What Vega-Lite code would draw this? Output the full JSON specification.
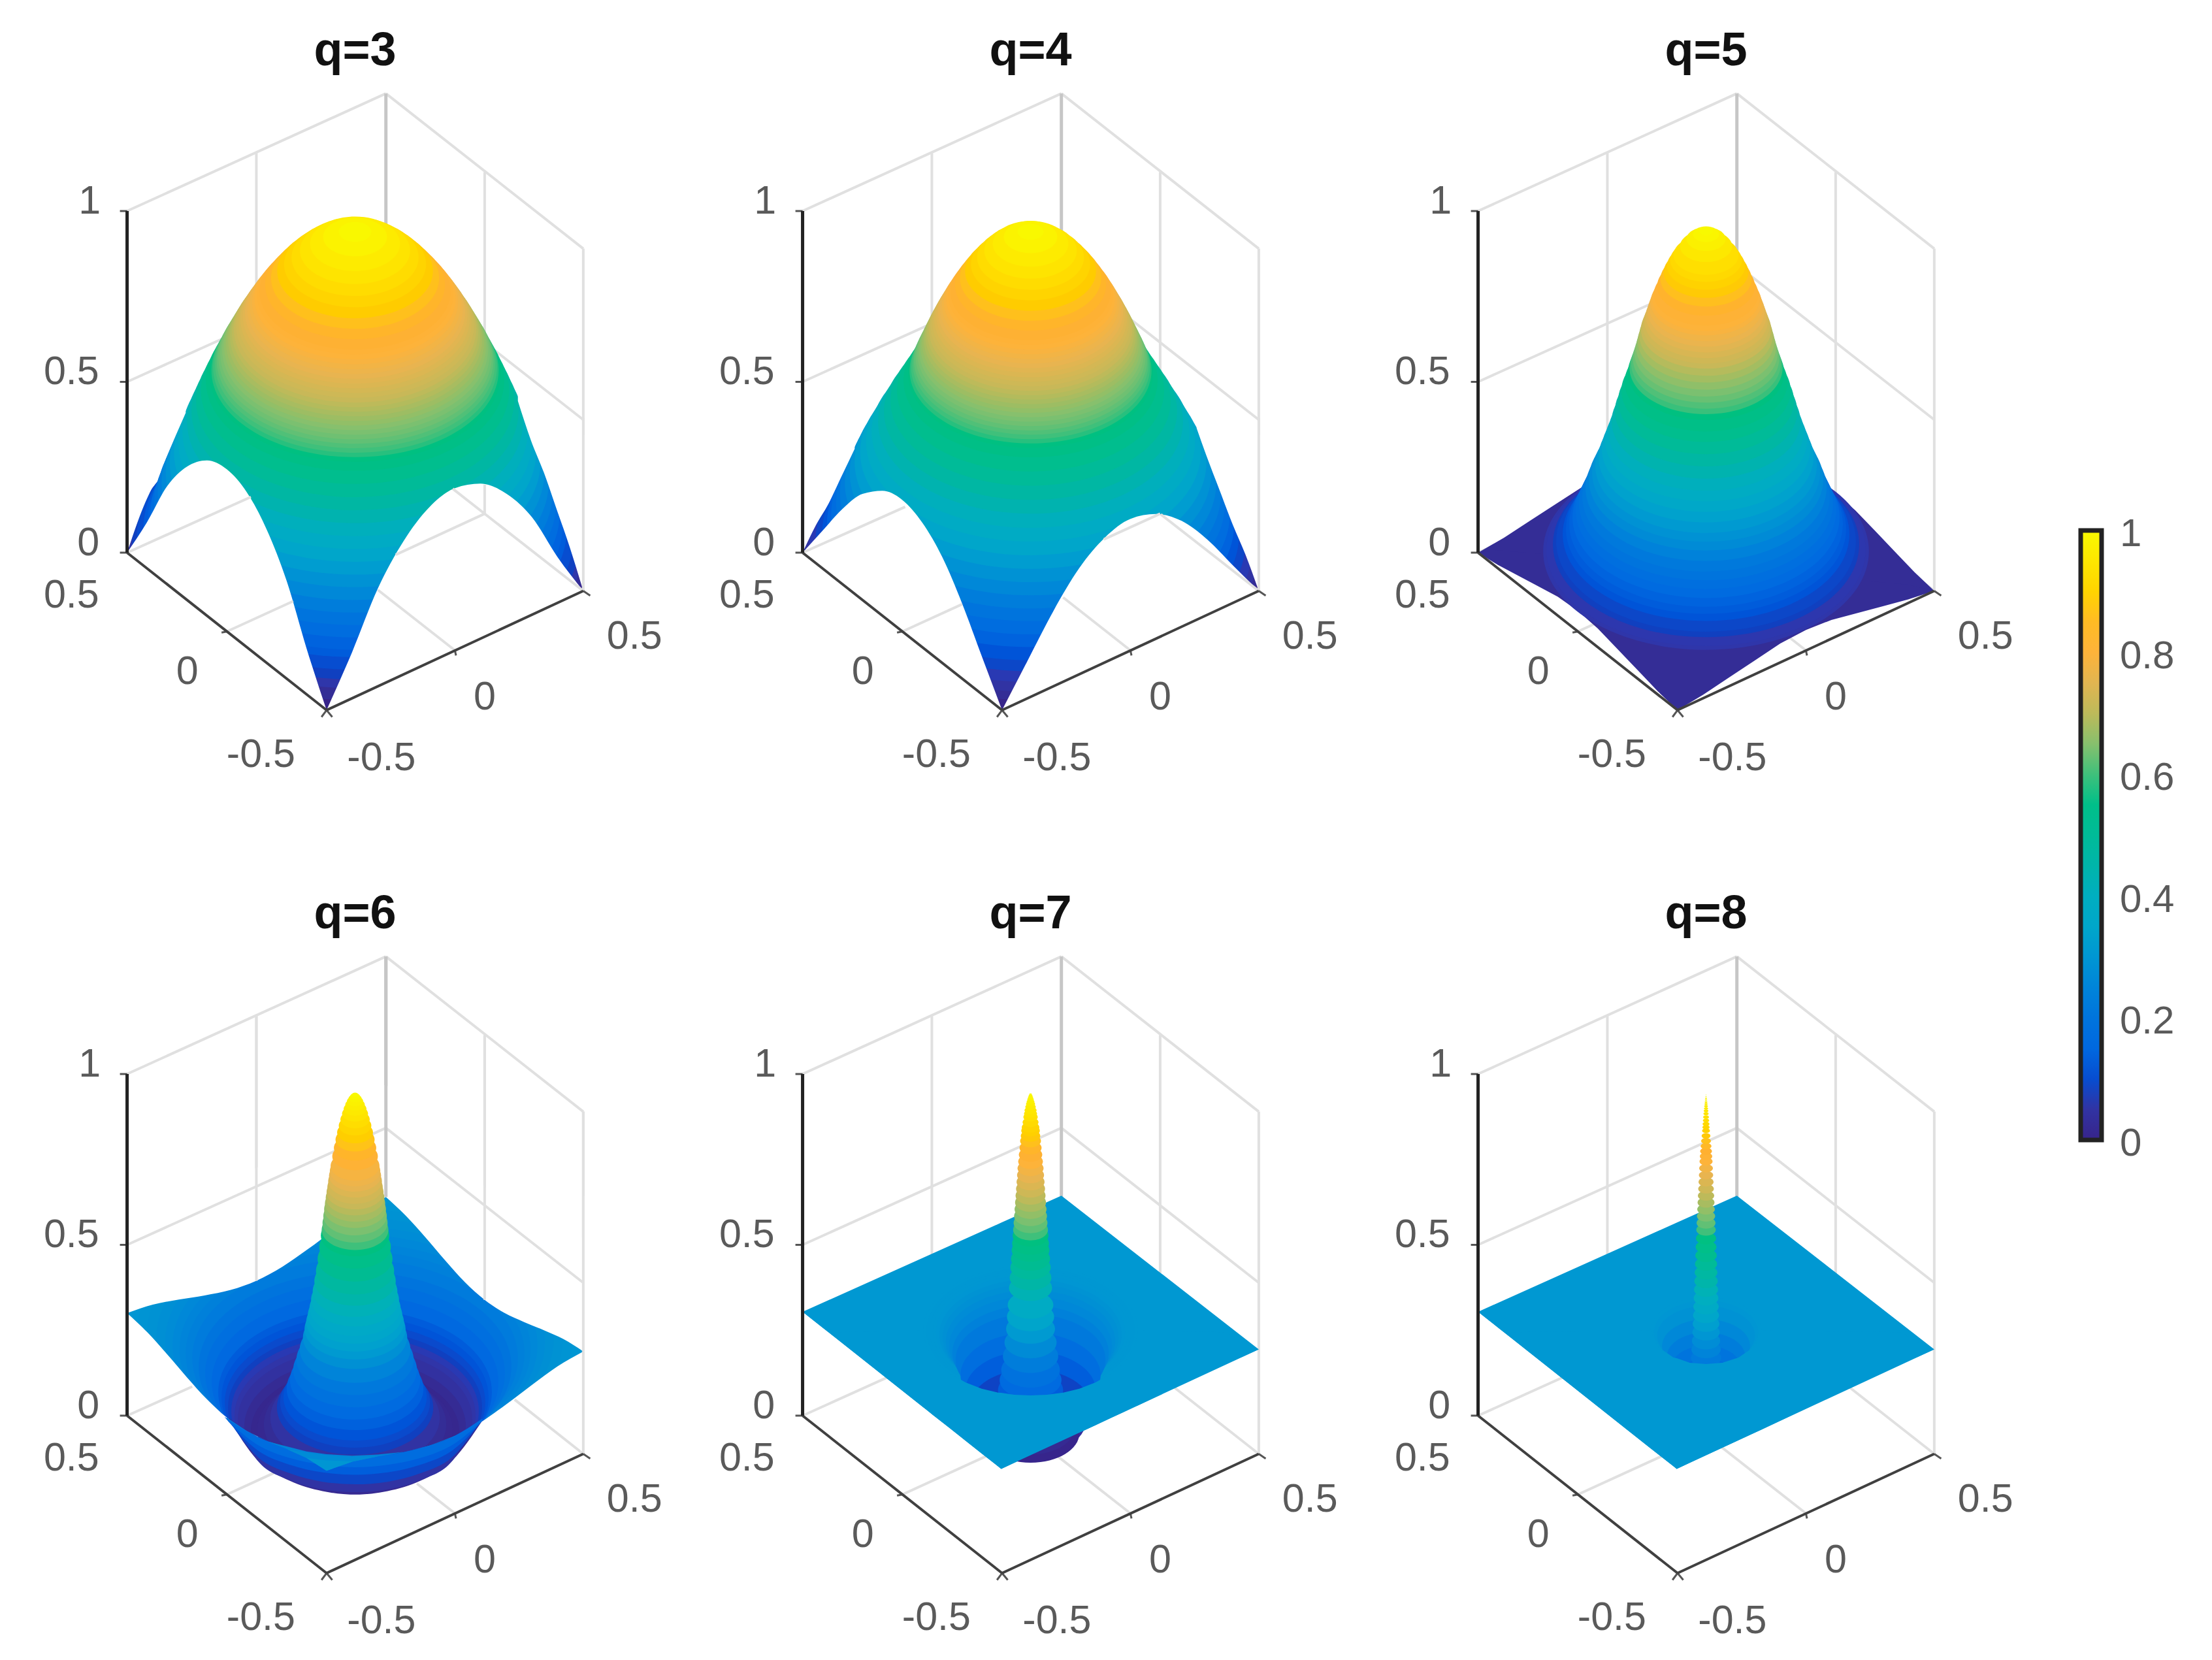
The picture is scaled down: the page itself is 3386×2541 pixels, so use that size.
{"$schema":"https://vega.github.io/schema/vega-lite/v6.json","background":"white","padding":{"left":45,"top":42,"right":0,"bottom":0},
"transform":[{"flatten":["q"]}],
"data":{"values":[
{"s":"g","q":["q=3","q=4","q=5","q=6","q=7","q=8"],"x":-0.7,"y":1.056,"x2":0.0947,"y2":1.4},
{"s":"g","q":["q=3","q=4","q=5","q=6","q=7","q=8"],"x":0.0947,"y":1.4,"x2":0.7008,"y2":0.946},
{"s":"g","q":["q=3","q=4","q=5","q=6","q=7","q=8"],"x":-0.7,"y":0.556,"x2":0.0947,"y2":0.898},
{"s":"g","q":["q=3","q=4","q=5","q=6","q=7","q=8"],"x":0.0947,"y":0.898,"x2":0.7008,"y2":0.445},
{"s":"g","q":["q=3","q=4","q=5","q=6","q=7","q=8"],"x":-0.7,"y":0.056,"x2":0.0947,"y2":0.398},
{"s":"g","q":["q=3","q=4","q=5","q=6","q=7","q=8"],"x":0.0947,"y":0.398,"x2":0.7008,"y2":-0.056},
{"s":"g","q":["q=3","q=4","q=5","q=6","q=7","q=8"],"x":-0.303,"y":0.226,"x2":-0.303,"y2":1.226},
{"s":"g","q":["q=3","q=4","q=5","q=6","q=7","q=8"],"x":0.398,"y":0.17,"x2":0.398,"y2":1.17},
{"s":"g","q":["q=3","q=4","q=5","q=6","q=7","q=8"],"x":0.7008,"y":-0.056,"x2":0.7008,"y2":0.946},
{"s":"g","q":["q=3","q=4","q=5","q=6","q=7","q=8"],"x":-0.394,"y":-0.175,"x2":0.398,"y2":0.17},
{"s":"g","q":["q=3","q=4","q=5","q=6","q=7","q=8"],"x":0.3066,"y":-0.23,"x2":-0.303,"y2":0.226},
{"s":"w","q":["q=3","q=4","q=5","q=6","q=7","q=8"],"x":0.0947,"y":0.398,"x2":0.0947,"y2":1.4},

{"s":"a","q":["q=3"],"r":0.707,"z":0.0},{"s":"a","q":["q=3"],"r":0.703,"z":0.03},{"s":"a","q":["q=3"],"r":0.695,"z":0.06},{"s":"a","q":["q=3"],"r":0.685,"z":0.08},{"s":"a","q":["q=3"],"r":0.67,"z":0.1},{"s":"a","q":["q=3"],"r":0.65,"z":0.125},{"s":"a","q":["q=3"],"r":0.638,"z":0.14},{"s":"a","q":["q=3"],"r":0.628,"z":0.17},{"s":"a","q":["q=3"],"r":0.617,"z":0.2},{"s":"a","q":["q=3"],"r":0.606,"z":0.23},{"s":"a","q":["q=3"],"r":0.594,"z":0.26},{"s":"a","q":["q=3"],"r":0.581,"z":0.29},{"s":"a","q":["q=3"],"r":0.569,"z":0.32},{"s":"a","q":["q=3"],"r":0.556,"z":0.35},{"s":"a","q":["q=3"],"r":0.543,"z":0.38},{"s":"a","q":["q=3"],"r":0.53,"z":0.41},{"s":"a","q":["q=3"],"r":0.516,"z":0.44},{"s":"a","q":["q=3"],"r":0.502,"z":0.47},{"s":"a","q":["q=3"],"r":0.488,"z":0.5},{"s":"a","q":["q=3"],"r":0.473,"z":0.53},{"s":"a","q":["q=3"],"r":0.458,"z":0.56},{"s":"a","q":["q=3"],"r":0.447,"z":0.58},{"s":"a","q":["q=3"],"r":0.441,"z":0.59},{"s":"a","q":["q=3"],"r":0.436,"z":0.6},{"s":"a","q":["q=3"],"r":0.43,"z":0.61},{"s":"a","q":["q=3"],"r":0.425,"z":0.62},{"s":"a","q":["q=3"],"r":0.42,"z":0.63},{"s":"a","q":["q=3"],"r":0.414,"z":0.64},{"s":"a","q":["q=3"],"r":0.408,"z":0.65},{"s":"a","q":["q=3"],"r":0.402,"z":0.66},{"s":"a","q":["q=3"],"r":0.396,"z":0.67},{"s":"a","q":["q=3"],"r":0.39,"z":0.68},{"s":"a","q":["q=3"],"r":0.384,"z":0.69},{"s":"a","q":["q=3"],"r":0.378,"z":0.7},{"s":"a","q":["q=3"],"r":0.372,"z":0.71},{"s":"a","q":["q=3"],"r":0.365,"z":0.72},{"s":"a","q":["q=3"],"r":0.358,"z":0.73},{"s":"a","q":["q=3"],"r":0.352,"z":0.74},{"s":"a","q":["q=3"],"r":0.345,"z":0.75},{"s":"a","q":["q=3"],"r":0.338,"z":0.76},{"s":"a","q":["q=3"],"r":0.331,"z":0.77},{"s":"a","q":["q=3"],"r":0.324,"z":0.78},{"s":"a","q":["q=3"],"r":0.316,"z":0.79},{"s":"a","q":["q=3"],"r":0.309,"z":0.8},{"s":"a","q":["q=3"],"r":0.301,"z":0.81},{"s":"a","q":["q=3"],"r":0.293,"z":0.82},{"s":"a","q":["q=3"],"r":0.276,"z":0.84},{"s":"a","q":["q=3"],"r":0.258,"z":0.86},{"s":"a","q":["q=3"],"r":0.239,"z":0.88},{"s":"a","q":["q=3"],"r":0.218,"z":0.9},{"s":"a","q":["q=3"],"r":0.195,"z":0.92},{"s":"a","q":["q=3"],"r":0.169,"z":0.94},{"s":"a","q":["q=3"],"r":0.138,"z":0.96},{"s":"a","q":["q=3"],"r":0.098,"z":0.98},{"s":"a","q":["q=3"],"r":0.05,"z":0.995},

{"s":"a","q":["q=4"],"r":0.707,"z":0.0},{"s":"a","q":["q=4"],"r":0.703,"z":0.03},{"s":"a","q":["q=4"],"r":0.695,"z":0.05},{"s":"a","q":["q=4"],"r":0.68,"z":0.07},{"s":"a","q":["q=4"],"r":0.66,"z":0.09},{"s":"a","q":["q=4"],"r":0.64,"z":0.11},{"s":"a","q":["q=4"],"r":0.625,"z":0.14},{"s":"a","q":["q=4"],"r":0.612,"z":0.17},{"s":"a","q":["q=4"],"r":0.597,"z":0.2},{"s":"a","q":["q=4"],"r":0.585,"z":0.23},{"s":"a","q":["q=4"],"r":0.57,"z":0.26},{"s":"a","q":["q=4"],"r":0.555,"z":0.29},{"s":"a","q":["q=4"],"r":0.54,"z":0.32},{"s":"a","q":["q=4"],"r":0.523,"z":0.35},{"s":"a","q":["q=4"],"r":0.505,"z":0.38},{"s":"a","q":["q=4"],"r":0.488,"z":0.41},{"s":"a","q":["q=4"],"r":0.468,"z":0.44},{"s":"a","q":["q=4"],"r":0.45,"z":0.47},{"s":"a","q":["q=4"],"r":0.43,"z":0.5},{"s":"a","q":["q=4"],"r":0.41,"z":0.53},{"s":"a","q":["q=4"],"r":0.39,"z":0.56},{"s":"a","q":["q=4"],"r":0.376,"z":0.58},{"s":"a","q":["q=4"],"r":0.3715,"z":0.59},{"s":"a","q":["q=4"],"r":0.367,"z":0.6},{"s":"a","q":["q=4"],"r":0.362,"z":0.61},{"s":"a","q":["q=4"],"r":0.358,"z":0.62},{"s":"a","q":["q=4"],"r":0.353,"z":0.63},{"s":"a","q":["q=4"],"r":0.348,"z":0.64},{"s":"a","q":["q=4"],"r":0.343,"z":0.65},{"s":"a","q":["q=4"],"r":0.338,"z":0.66},{"s":"a","q":["q=4"],"r":0.333,"z":0.67},{"s":"a","q":["q=4"],"r":0.328,"z":0.68},{"s":"a","q":["q=4"],"r":0.323,"z":0.69},{"s":"a","q":["q=4"],"r":0.318,"z":0.7},{"s":"a","q":["q=4"],"r":0.3125,"z":0.71},{"s":"a","q":["q=4"],"r":0.307,"z":0.72},{"s":"a","q":["q=4"],"r":0.3015,"z":0.73},{"s":"a","q":["q=4"],"r":0.296,"z":0.74},{"s":"a","q":["q=4"],"r":0.29,"z":0.75},{"s":"a","q":["q=4"],"r":0.284,"z":0.76},{"s":"a","q":["q=4"],"r":0.278,"z":0.77},{"s":"a","q":["q=4"],"r":0.272,"z":0.78},{"s":"a","q":["q=4"],"r":0.266,"z":0.79},{"s":"a","q":["q=4"],"r":0.259,"z":0.8},{"s":"a","q":["q=4"],"r":0.253,"z":0.81},{"s":"a","q":["q=4"],"r":0.246,"z":0.82},{"s":"a","q":["q=4"],"r":0.232,"z":0.84},{"s":"a","q":["q=4"],"r":0.217,"z":0.86},{"s":"a","q":["q=4"],"r":0.201,"z":0.88},{"s":"a","q":["q=4"],"r":0.183,"z":0.9},{"s":"a","q":["q=4"],"r":0.164,"z":0.92},{"s":"a","q":["q=4"],"r":0.142,"z":0.94},{"s":"a","q":["q=4"],"r":0.116,"z":0.96},{"s":"a","q":["q=4"],"r":0.082,"z":0.98},{"s":"a","q":["q=4"],"r":0.04,"z":0.995},

{"s":"a","q":["q=6"],"r":0.707,"z":0.3},{"s":"a","q":["q=6"],"r":0.67,"z":0.295},{"s":"a","q":["q=6"],"r":0.64,"z":0.291},{"s":"a","q":["q=6"],"r":0.61,"z":0.283},{"s":"a","q":["q=6"],"r":0.583,"z":0.272},{"s":"a","q":["q=6"],"r":0.56,"z":0.262},{"s":"a","q":["q=6"],"r":0.539,"z":0.25},{"s":"a","q":["q=6"],"r":0.52,"z":0.238},{"s":"a","q":["q=6"],"r":0.5,"z":0.225},{"s":"a","q":["q=6"],"r":0.48,"z":0.2},{"s":"a","q":["q=6"],"r":0.46,"z":0.18},{"s":"a","q":["q=6"],"r":0.44,"z":0.155},{"s":"a","q":["q=6"],"r":0.42,"z":0.125},{"s":"a","q":["q=6"],"r":0.41,"z":0.11},{"s":"a","q":["q=6"],"r":0.4,"z":0.095},{"s":"a","q":["q=6"],"r":0.39,"z":0.08},{"s":"a","q":["q=6"],"r":0.38,"z":0.07},{"s":"a","q":["q=6"],"r":0.37,"z":0.057},{"s":"a","q":["q=6"],"r":0.36,"z":0.045},{"s":"a","q":["q=6"],"r":0.34,"z":0.025},{"s":"a","q":["q=6"],"r":0.32,"z":0.01},

{"s":"m","q":["q=3"],"b":"m0","x":-0.73,"y":0.4,"y2":-0.6},{"s":"m","q":["q=3"],"b":"m0","x":-0.7001,"y":0.4,"y2":-0.6},
{"s":"m","q":["q=3"],"b":"m1","x":-0.7,"y":0.056,"y2":-0.6},{"s":"m","q":["q=3"],"b":"m1","x":-0.639,"y":0.145,"y2":-0.6},{"s":"m","q":["q=3"],"b":"m1","x":-0.5775,"y":0.25,"y2":-0.6},{"s":"m","q":["q=3"],"b":"m1","x":-0.516,"y":0.308,"y2":-0.6},{"s":"m","q":["q=3"],"b":"m1","x":-0.455,"y":0.326,"y2":-0.6},{"s":"m","q":["q=3"],"b":"m1","x":-0.394,"y":0.3,"y2":-0.6},{"s":"m","q":["q=3"],"b":"m1","x":-0.3325,"y":0.233,"y2":-0.6},{"s":"m","q":["q=3"],"b":"m1","x":-0.271,"y":0.123,"y2":-0.6},{"s":"m","q":["q=3"],"b":"m1","x":-0.21,"y":-0.027,"y2":-0.6},{"s":"m","q":["q=3"],"b":"m1","x":-0.149,"y":-0.224,"y2":-0.6},{"s":"m","q":["q=3"],"b":"m1","x":-0.0875,"y":-0.405,"y2":-0.6},
{"s":"m","q":["q=3"],"b":"m2","x":-0.0875,"y":-0.405,"y2":-0.6},{"s":"m","q":["q=3"],"b":"m2","x":-0.009,"y":-0.235,"y2":-0.6},{"s":"m","q":["q=3"],"b":"m2","x":0.07,"y":-0.049,"y2":-0.6},{"s":"m","q":["q=3"],"b":"m2","x":0.149,"y":0.09,"y2":-0.6},{"s":"m","q":["q=3"],"b":"m2","x":0.228,"y":0.189,"y2":-0.6},{"s":"m","q":["q=3"],"b":"m2","x":0.307,"y":0.245,"y2":-0.6},{"s":"m","q":["q=3"],"b":"m2","x":0.385,"y":0.258,"y2":-0.6},{"s":"m","q":["q=3"],"b":"m2","x":0.464,"y":0.229,"y2":-0.6},{"s":"m","q":["q=3"],"b":"m2","x":0.543,"y":0.16,"y2":-0.6},{"s":"m","q":["q=3"],"b":"m2","x":0.621,"y":0.044,"y2":-0.6},{"s":"m","q":["q=3"],"b":"m2","x":0.7008,"y":-0.056,"y2":-0.6},
{"s":"m","q":["q=3"],"b":"m3","x":0.7009,"y":0.4,"y2":-0.6},{"s":"m","q":["q=3"],"b":"m3","x":0.73,"y":0.4,"y2":-0.6},
{"s":"m","q":["q=3"],"b":"m4","x":-0.71,"y":0.056,"y2":-0.6},{"s":"m","q":["q=3"],"b":"m4","x":-0.69,"y":0.056,"y2":-0.6},
{"s":"m","q":["q=3"],"b":"m5","x":0.69,"y":-0.06,"y2":-0.6},{"s":"m","q":["q=3"],"b":"m5","x":0.71,"y":-0.06,"y2":-0.6},
{"s":"m","q":["q=3"],"b":"k1","x":-0.7,"y":0.54,"y2":0.056},{"s":"m","q":["q=3"],"b":"k1","x":-0.65,"y":0.54,"y2":0.19},{"s":"m","q":["q=3"],"b":"k1","x":-0.6,"y":0.54,"y2":0.29},{"s":"m","q":["q=3"],"b":"k1","x":-0.55,"y":0.54,"y2":0.4},{"s":"m","q":["q=3"],"b":"k1","x":-0.52,"y":0.54,"y2":0.465},
{"s":"m","q":["q=3"],"b":"k2","x":0.5,"y":0.55,"y2":0.5},{"s":"m","q":["q=3"],"b":"k2","x":0.54,"y":0.53,"y2":0.385},{"s":"m","q":["q=3"],"b":"k2","x":0.58,"y":0.5,"y2":0.29},{"s":"m","q":["q=3"],"b":"k2","x":0.62,"y":0.47,"y2":0.18},{"s":"m","q":["q=3"],"b":"k2","x":0.66,"y":0.45,"y2":0.07},{"s":"m","q":["q=3"],"b":"k2","x":0.7008,"y":0.44,"y2":-0.056},

{"s":"m","q":["q=4"],"b":"m0","x":-0.73,"y":0.4,"y2":-0.6},{"s":"m","q":["q=4"],"b":"m0","x":-0.7001,"y":0.4,"y2":-0.6},
{"s":"m","q":["q=4"],"b":"m1","x":-0.7,"y":0.056,"y2":-0.6},{"s":"m","q":["q=4"],"b":"m1","x":-0.639,"y":0.12,"y2":-0.6},{"s":"m","q":["q=4"],"b":"m1","x":-0.5775,"y":0.184,"y2":-0.6},{"s":"m","q":["q=4"],"b":"m1","x":-0.516,"y":0.228,"y2":-0.6},{"s":"m","q":["q=4"],"b":"m1","x":-0.455,"y":0.237,"y2":-0.6},{"s":"m","q":["q=4"],"b":"m1","x":-0.394,"y":0.2105,"y2":-0.6},{"s":"m","q":["q=4"],"b":"m1","x":-0.3325,"y":0.144,"y2":-0.6},{"s":"m","q":["q=4"],"b":"m1","x":-0.271,"y":0.043,"y2":-0.6},{"s":"m","q":["q=4"],"b":"m1","x":-0.21,"y":-0.093,"y2":-0.6},{"s":"m","q":["q=4"],"b":"m1","x":-0.149,"y":-0.249,"y2":-0.6},{"s":"m","q":["q=4"],"b":"m1","x":-0.0875,"y":-0.405,"y2":-0.6},
{"s":"m","q":["q=4"],"b":"m2","x":-0.0875,"y":-0.405,"y2":-0.6},{"s":"m","q":["q=4"],"b":"m2","x":-0.009,"y":-0.26,"y2":-0.6},{"s":"m","q":["q=4"],"b":"m2","x":0.07,"y":-0.115,"y2":-0.6},{"s":"m","q":["q=4"],"b":"m2","x":0.149,"y":0.01,"y2":-0.6},{"s":"m","q":["q=4"],"b":"m2","x":0.228,"y":0.1,"y2":-0.6},{"s":"m","q":["q=4"],"b":"m2","x":0.307,"y":0.155,"y2":-0.6},{"s":"m","q":["q=4"],"b":"m2","x":0.385,"y":0.169,"y2":-0.6},{"s":"m","q":["q=4"],"b":"m2","x":0.464,"y":0.149,"y2":-0.6},{"s":"m","q":["q=4"],"b":"m2","x":0.543,"y":0.094,"y2":-0.6},{"s":"m","q":["q=4"],"b":"m2","x":0.621,"y":0.019,"y2":-0.6},{"s":"m","q":["q=4"],"b":"m2","x":0.7008,"y":-0.056,"y2":-0.6},
{"s":"m","q":["q=4"],"b":"m3","x":0.7009,"y":0.4,"y2":-0.6},{"s":"m","q":["q=4"],"b":"m3","x":0.73,"y":0.4,"y2":-0.6},
{"s":"m","q":["q=4"],"b":"m4","x":-0.71,"y":0.056,"y2":-0.6},{"s":"m","q":["q=4"],"b":"m4","x":-0.69,"y":0.056,"y2":-0.6},
{"s":"m","q":["q=4"],"b":"m5","x":0.69,"y":-0.06,"y2":-0.6},{"s":"m","q":["q=4"],"b":"m5","x":0.71,"y":-0.06,"y2":-0.6},
{"s":"m","q":["q=4"],"b":"k1","x":-0.7,"y":0.54,"y2":0.056},{"s":"m","q":["q=4"],"b":"k1","x":-0.66,"y":0.54,"y2":0.135},{"s":"m","q":["q=4"],"b":"k1","x":-0.62,"y":0.54,"y2":0.2},{"s":"m","q":["q=4"],"b":"k1","x":-0.58,"y":0.54,"y2":0.28},{"s":"m","q":["q=4"],"b":"k1","x":-0.54,"y":0.54,"y2":0.36},
{"s":"m","q":["q=4"],"b":"k2","x":0.51,"y":0.5,"y2":0.42},{"s":"m","q":["q=4"],"b":"k2","x":0.54,"y":0.49,"y2":0.34},{"s":"m","q":["q=4"],"b":"k2","x":0.58,"y":0.47,"y2":0.24},{"s":"m","q":["q=4"],"b":"k2","x":0.62,"y":0.46,"y2":0.14},{"s":"m","q":["q=4"],"b":"k2","x":0.66,"y":0.45,"y2":0.05},{"s":"m","q":["q=4"],"b":"k2","x":0.7008,"y":0.44,"y2":-0.056},

{"s":"m","q":["q=6"],"b":"b1","x":-0.7,"y":0.686,"y2":0.356},{"s":"m","q":["q=6"],"b":"b1","x":-0.621,"y":0.711,"y2":0.381},{"s":"m","q":["q=6"],"b":"b1","x":-0.541,"y":0.726,"y2":0.396},{"s":"m","q":["q=6"],"b":"b1","x":-0.462,"y":0.738,"y2":0.408},{"s":"m","q":["q=6"],"b":"b1","x":-0.382,"y":0.754,"y2":0.424},{"s":"m","q":["q=6"],"b":"b1","x":-0.303,"y":0.781,"y2":0.451},{"s":"m","q":["q=6"],"b":"b1","x":-0.223,"y":0.822,"y2":0.492},{"s":"m","q":["q=6"],"b":"b1","x":-0.144,"y":0.874,"y2":0.544},{"s":"m","q":["q=6"],"b":"b1","x":-0.064,"y":0.93,"y2":0.6},{"s":"m","q":["q=6"],"b":"b1","x":0.015,"y":0.983,"y2":0.653},{"s":"m","q":["q=6"],"b":"b1","x":0.0947,"y":1.026,"y2":0.696},
{"s":"m","q":["q=6"],"b":"b2","x":0.0947,"y":1.026,"y2":0.696},{"s":"m","q":["q=6"],"b":"b2","x":0.155,"y":0.972,"y2":0.642},{"s":"m","q":["q=6"],"b":"b2","x":0.216,"y":0.908,"y2":0.578},{"s":"m","q":["q=6"],"b":"b2","x":0.277,"y":0.84,"y2":0.51},{"s":"m","q":["q=6"],"b":"b2","x":0.337,"y":0.777,"y2":0.447},{"s":"m","q":["q=6"],"b":"b2","x":0.398,"y":0.725,"y2":0.395},{"s":"m","q":["q=6"],"b":"b2","x":0.458,"y":0.687,"y2":0.357},{"s":"m","q":["q=6"],"b":"b2","x":0.519,"y":0.66,"y2":0.33},{"s":"m","q":["q=6"],"b":"b2","x":0.58,"y":0.636,"y2":0.306},{"s":"m","q":["q=6"],"b":"b2","x":0.64,"y":0.61,"y2":0.28},{"s":"m","q":["q=6"],"b":"b2","x":0.7008,"y":0.574,"y2":0.244},

{"s":"m","q":["q=6"],"b":"f0","x":-0.73,"y":0.7,"y2":-0.6},{"s":"m","q":["q=6"],"b":"f0","x":-0.7001,"y":0.7,"y2":-0.6},
{"s":"m","q":["q=6"],"b":"f1","x":-0.7,"y":0.356,"y2":-0.6},{"s":"m","q":["q=6"],"b":"f1","x":-0.639,"y":0.301,"y2":-0.6},{"s":"m","q":["q=6"],"b":"f1","x":-0.5775,"y":0.236,"y2":-0.6},{"s":"m","q":["q=6"],"b":"f1","x":-0.516,"y":0.168,"y2":-0.6},{"s":"m","q":["q=6"],"b":"f1","x":-0.455,"y":0.104,"y2":-0.6},{"s":"m","q":["q=6"],"b":"f1","x":-0.394,"y":0.0505,"y2":-0.6},{"s":"m","q":["q=6"],"b":"f1","x":-0.3325,"y":0.011,"y2":-0.6},{"s":"m","q":["q=6"],"b":"f1","x":-0.271,"y":-0.017,"y2":-0.6},{"s":"m","q":["q=6"],"b":"f1","x":-0.21,"y":-0.041,"y2":-0.6},{"s":"m","q":["q=6"],"b":"f1","x":-0.149,"y":-0.068,"y2":-0.6},{"s":"m","q":["q=6"],"b":"f1","x":-0.0875,"y":-0.105,"y2":-0.6},
{"s":"m","q":["q=6"],"b":"f2","x":-0.0875,"y":-0.105,"y2":-0.6},{"s":"m","q":["q=6"],"b":"f2","x":-0.009,"y":-0.079,"y2":-0.6},{"s":"m","q":["q=6"],"b":"f2","x":0.07,"y":-0.063,"y2":-0.6},{"s":"m","q":["q=6"],"b":"f2","x":0.149,"y":-0.05,"y2":-0.6},{"s":"m","q":["q=6"],"b":"f2","x":0.228,"y":-0.033,"y2":-0.6},{"s":"m","q":["q=6"],"b":"f2","x":0.307,"y":-0.005,"y2":-0.6},{"s":"m","q":["q=6"],"b":"f2","x":0.385,"y":0.036,"y2":-0.6},{"s":"m","q":["q=6"],"b":"f2","x":0.464,"y":0.089,"y2":-0.6},{"s":"m","q":["q=6"],"b":"f2","x":0.543,"y":0.146,"y2":-0.6},{"s":"m","q":["q=6"],"b":"f2","x":0.621,"y":0.2,"y2":-0.6},{"s":"m","q":["q=6"],"b":"f2","x":0.7008,"y":0.244,"y2":-0.6},
{"s":"m","q":["q=6"],"b":"f3","x":0.7009,"y":0.7,"y2":-0.6},{"s":"m","q":["q=6"],"b":"f3","x":0.73,"y":0.7,"y2":-0.6},
{"s":"m","q":["q=6"],"b":"f4","x":-0.71,"y":0.3,"y2":-0.6},{"s":"m","q":["q=6"],"b":"f4","x":-0.69,"y":0.3,"y2":-0.6},
{"s":"m","q":["q=6"],"b":"f5","x":0.69,"y":0.23,"y2":-0.6},{"s":"m","q":["q=6"],"b":"f5","x":0.71,"y":0.23,"y2":-0.6},

{"s":"h","q":["q=3"],"x":-0.7,"y":0.056,"x2":-0.32,"y2":0.219},{"s":"h","q":["q=3"],"x":-0.394,"y":-0.175,"x2":-0.19,"y2":-0.086},{"s":"h","q":["q=3"],"x":0.125,"y":0.05,"x2":0.398,"y2":0.17},{"s":"h","q":["q=3"],"x":0.3066,"y":-0.23,"x2":0.07,"y2":-0.053},{"s":"h","q":["q=3"],"x":0.3,"y":0.243,"x2":0.7008,"y2":-0.056},{"s":"h","q":["q=3"],"x":0.398,"y":0.17,"x2":0.398,"y2":0.255},{"s":"h","q":["q=3"],"x":0.7008,"y":-0.056,"x2":0.7008,"y2":0.45},
{"s":"h","q":["q=4"],"x":-0.7,"y":0.056,"x2":-0.385,"y2":0.19},{"s":"h","q":["q=4"],"x":-0.394,"y":-0.175,"x2":-0.21,"y2":-0.095},{"s":"h","q":["q=4"],"x":0.225,"y":0.095,"x2":0.398,"y2":0.17},{"s":"h","q":["q=4"],"x":0.3066,"y":-0.23,"x2":0.1,"y2":-0.075},{"s":"h","q":["q=4"],"x":0.4,"y":0.168,"x2":0.7008,"y2":-0.056},{"s":"h","q":["q=4"],"x":0.7008,"y":-0.056,"x2":0.7008,"y2":0.45},
{"s":"h","q":["q=6"],"x":-0.7,"y":0.556,"x2":0.0947,"y2":0.898},{"s":"h","q":["q=6"],"x":0.0947,"y":0.898,"x2":0.7008,"y2":0.445},{"s":"h","q":["q=6"],"x":-0.303,"y":0.451,"x2":-0.303,"y2":1.226},{"s":"h","q":["q=6"],"x":0.398,"y":0.395,"x2":0.398,"y2":1.17},{"s":"h","q":["q=6"],"x":0.7008,"y":0.244,"x2":0.7008,"y2":0.946},{"s":"h","q":["q=6"],"x":-0.7,"y":0.056,"x2":-0.5,"y2":0.141},{"s":"h","q":["q=6"],"x":-0.394,"y":-0.175,"x2":-0.25,"y2":-0.112},{"s":"h","q":["q=6"],"x":0.3066,"y":-0.23,"x2":0.19,"y2":-0.143},{"s":"h","q":["q=6"],"x":0.49,"y":0.103,"x2":0.7008,"y2":-0.056},{"s":"h","q":["q=6"],"x":0.7008,"y":-0.056,"x2":0.7008,"y2":0.244},
{"s":"y","q":["q=6"],"x":0.0947,"y":0.696,"x2":0.0947,"y2":1.4},

{"s":"p","q":["q=5"],"b":"u","z":0.03,"x":-0.7,"y":0.056,"y2":0.056},{"s":"p","q":["q=5"],"b":"u","z":0.03,"x":-0.62,"y":0.1,"y2":0.05},{"s":"p","q":["q=5"],"b":"u","z":0.03,"x":-0.541,"y":0.149,"y2":0.043},{"s":"p","q":["q=5"],"b":"u","z":0.03,"x":-0.462,"y":0.198,"y2":0.037},{"s":"p","q":["q=5"],"b":"u","z":0.03,"x":-0.382,"y":0.247,"y2":0.031},{"s":"p","q":["q=5"],"b":"u","z":0.03,"x":-0.303,"y":0.286,"y2":0.024},{"s":"p","q":["q=5"],"b":"u","z":0.03,"x":-0.144,"y":0.334,"y2":0.012},{"s":"p","q":["q=5"],"b":"u","z":0.03,"x":0.0947,"y":0.396,"y2":-0.008},{"s":"p","q":["q=5"],"b":"u","z":0.03,"x":0.277,"y":0.3,"y2":-0.022},{"s":"p","q":["q=5"],"b":"u","z":0.03,"x":0.337,"y":0.27,"y2":-0.027},{"s":"p","q":["q=5"],"b":"u","z":0.03,"x":0.398,"y":0.23,"y2":-0.032},{"s":"p","q":["q=5"],"b":"u","z":0.03,"x":0.458,"y":0.18,"y2":-0.037},{"s":"p","q":["q=5"],"b":"u","z":0.03,"x":0.519,"y":0.12,"y2":-0.042},{"s":"p","q":["q=5"],"b":"u","z":0.03,"x":0.58,"y":0.059,"y2":-0.046},{"s":"p","q":["q=5"],"b":"u","z":0.03,"x":0.64,"y":-0.001,"y2":-0.051},{"s":"p","q":["q=5"],"b":"u","z":0.03,"x":0.7008,"y":-0.056,"y2":-0.056},
{"s":"p","q":["q=5"],"b":"l","z":0.03,"x":-0.7,"y":0.056,"y2":0.056},{"s":"p","q":["q=5"],"b":"l","z":0.03,"x":-0.639,"y":0.063,"y2":0.02},{"s":"p","q":["q=5"],"b":"l","z":0.03,"x":-0.5775,"y":0.058,"y2":-0.011},{"s":"p","q":["q=5"],"b":"l","z":0.03,"x":-0.516,"y":0.053,"y2":-0.042},{"s":"p","q":["q=5"],"b":"l","z":0.03,"x":-0.455,"y":0.048,"y2":-0.073},{"s":"p","q":["q=5"],"b":"l","z":0.03,"x":-0.394,"y":0.044,"y2":-0.1145},{"s":"p","q":["q=5"],"b":"l","z":0.03,"x":-0.3325,"y":0.039,"y2":-0.166},{"s":"p","q":["q=5"],"b":"l","z":0.03,"x":-0.271,"y":0.034,"y2":-0.227},{"s":"p","q":["q=5"],"b":"l","z":0.03,"x":-0.21,"y":0.029,"y2":-0.288},{"s":"p","q":["q=5"],"b":"l","z":0.03,"x":-0.149,"y":0.024,"y2":-0.349},{"s":"p","q":["q=5"],"b":"l","z":0.03,"x":-0.0875,"y":0.019,"y2":-0.405},{"s":"p","q":["q=5"],"b":"l","z":0.03,"x":-0.009,"y":0.013,"y2":-0.36},{"s":"p","q":["q=5"],"b":"l","z":0.03,"x":0.07,"y":0.006,"y2":-0.31},{"s":"p","q":["q=5"],"b":"l","z":0.03,"x":0.149,"y":0,"y2":-0.26},{"s":"p","q":["q=5"],"b":"l","z":0.03,"x":0.228,"y":-0.006,"y2":-0.21},{"s":"p","q":["q=5"],"b":"l","z":0.03,"x":0.307,"y":-0.013,"y2":-0.17},{"s":"p","q":["q=5"],"b":"l","z":0.03,"x":0.385,"y":-0.019,"y2":-0.141},{"s":"p","q":["q=5"],"b":"l","z":0.03,"x":0.464,"y":-0.025,"y2":-0.121},{"s":"p","q":["q=5"],"b":"l","z":0.03,"x":0.543,"y":-0.031,"y2":-0.101},{"s":"p","q":["q=5"],"b":"l","z":0.03,"x":0.621,"y":-0.038,"y2":-0.081},{"s":"p","q":["q=5"],"b":"l","z":0.03,"x":0.7008,"y":-0.056,"y2":-0.056},

{"s":"p","q":["q=7","q=8"],"b":"s","z":0.305,"x":-0.7,"y":0.36,"y2":0.36},{"s":"p","q":["q=7","q=8"],"b":"s","z":0.305,"x":-0.09,"y":0.621,"y2":-0.1},{"s":"p","q":["q=7","q=8"],"b":"s","z":0.305,"x":0.0947,"y":0.7,"y2":-0.018},{"s":"p","q":["q=7","q=8"],"b":"s","z":0.305,"x":0.7008,"y":0.25,"y2":0.25},

{"s":"c","q":["q=5"],"r":0.5,"z":0.06},{"s":"c","q":["q=5"],"r":0.49,"z":0.065},{"s":"c","q":["q=5"],"r":0.47,"z":0.08},{"s":"c","q":["q=5"],"r":0.46,"z":0.09},{"s":"c","q":["q=5"],"r":0.44,"z":0.11},{"s":"c","q":["q=5"],"r":0.43,"z":0.125},{"s":"c","q":["q=5"],"r":0.42,"z":0.14},{"s":"c","q":["q=5"],"r":0.41,"z":0.16},{"s":"c","q":["q=5"],"r":0.4,"z":0.18},{"s":"c","q":["q=5"],"r":0.39,"z":0.2},{"s":"c","q":["q=5"],"r":0.38,"z":0.22},{"s":"c","q":["q=5"],"r":0.37,"z":0.245},{"s":"c","q":["q=5"],"r":0.36,"z":0.27},{"s":"c","q":["q=5"],"r":0.35,"z":0.29},{"s":"c","q":["q=5"],"r":0.34,"z":0.31},{"s":"c","q":["q=5"],"r":0.33,"z":0.335},{"s":"c","q":["q=5"],"r":0.32,"z":0.36},{"s":"c","q":["q=5"],"r":0.31,"z":0.385},{"s":"c","q":["q=5"],"r":0.3,"z":0.41},{"s":"c","q":["q=5"],"r":0.29,"z":0.44},{"s":"c","q":["q=5"],"r":0.28,"z":0.47},{"s":"c","q":["q=5"],"r":0.27,"z":0.5},{"s":"c","q":["q=5"],"r":0.26,"z":0.53},{"s":"c","q":["q=5"],"r":0.25,"z":0.555},{"s":"c","q":["q=5"],"r":0.24,"z":0.583},{"s":"c","q":["q=5"],"r":0.235,"z":0.597},{"s":"c","q":["q=5"],"r":0.23,"z":0.61},{"s":"c","q":["q=5"],"r":0.225,"z":0.625},{"s":"c","q":["q=5"],"r":0.22,"z":0.64},{"s":"c","q":["q=5"],"r":0.215,"z":0.657},{"s":"c","q":["q=5"],"r":0.21,"z":0.675},{"s":"c","q":["q=5"],"r":0.205,"z":0.692},{"s":"c","q":["q=5"],"r":0.2,"z":0.71},{"s":"c","q":["q=5"],"r":0.195,"z":0.722},{"s":"c","q":["q=5"],"r":0.19,"z":0.735},{"s":"c","q":["q=5"],"r":0.185,"z":0.749},{"s":"c","q":["q=5"],"r":0.18,"z":0.763},{"s":"c","q":["q=5"],"r":0.175,"z":0.776},{"s":"c","q":["q=5"],"r":0.17,"z":0.79},{"s":"c","q":["q=5"],"r":0.165,"z":0.8},{"s":"c","q":["q=5"],"r":0.16,"z":0.813},{"s":"c","q":["q=5"],"r":0.15,"z":0.836},{"s":"c","q":["q=5"],"r":0.14,"z":0.857},{"s":"c","q":["q=5"],"r":0.13,"z":0.877},{"s":"c","q":["q=5"],"r":0.12,"z":0.895},{"s":"c","q":["q=5"],"r":0.11,"z":0.912},{"s":"c","q":["q=5"],"r":0.1,"z":0.927},{"s":"c","q":["q=5"],"r":0.08,"z":0.953},{"s":"c","q":["q=5"],"r":0.06,"z":0.974},{"s":"c","q":["q=5"],"r":0.04,"z":0.988},{"s":"c","q":["q=5"],"r":0.02,"z":0.997},

{"s":"c","q":["q=6"],"r":0.3,"z":0.015},{"s":"c","q":["q=6"],"r":0.28,"z":0.03},{"s":"c","q":["q=6"],"r":0.26,"z":0.05},{"s":"c","q":["q=6"],"r":0.24,"z":0.08},{"s":"c","q":["q=6"],"r":0.23,"z":0.095},{"s":"c","q":["q=6"],"r":0.22,"z":0.11},{"s":"c","q":["q=6"],"r":0.21,"z":0.135},{"s":"c","q":["q=6"],"r":0.2,"z":0.16},{"s":"c","q":["q=6"],"r":0.19,"z":0.19},{"s":"c","q":["q=6"],"r":0.18,"z":0.22},{"s":"c","q":["q=6"],"r":0.17,"z":0.25},{"s":"c","q":["q=6"],"r":0.16,"z":0.285},{"s":"c","q":["q=6"],"r":0.155,"z":0.31},{"s":"c","q":["q=6"],"r":0.15,"z":0.33},{"s":"c","q":["q=6"],"r":0.145,"z":0.35},{"s":"c","q":["q=6"],"r":0.14,"z":0.37},{"s":"c","q":["q=6"],"r":0.135,"z":0.395},{"s":"c","q":["q=6"],"r":0.13,"z":0.42},{"s":"c","q":["q=6"],"r":0.125,"z":0.45},{"s":"c","q":["q=6"],"r":0.12,"z":0.48},{"s":"c","q":["q=6"],"r":0.115,"z":0.515},{"s":"c","q":["q=6"],"r":0.11,"z":0.55},{"s":"c","q":["q=6"],"r":0.105,"z":0.583},{"s":"c","q":["q=6"],"r":0.1025,"z":0.6},{"s":"c","q":["q=6"],"r":0.1,"z":0.62},{"s":"c","q":["q=6"],"r":0.0975,"z":0.64},{"s":"c","q":["q=6"],"r":0.095,"z":0.66},{"s":"c","q":["q=6"],"r":0.0925,"z":0.677},{"s":"c","q":["q=6"],"r":0.09,"z":0.694},{"s":"c","q":["q=6"],"r":0.0875,"z":0.71},{"s":"c","q":["q=6"],"r":0.085,"z":0.725},{"s":"c","q":["q=6"],"r":0.0825,"z":0.742},{"s":"c","q":["q=6"],"r":0.08,"z":0.758},{"s":"c","q":["q=6"],"r":0.0775,"z":0.772},{"s":"c","q":["q=6"],"r":0.075,"z":0.787},{"s":"c","q":["q=6"],"r":0.07,"z":0.815},{"s":"c","q":["q=6"],"r":0.065,"z":0.84},{"s":"c","q":["q=6"],"r":0.06,"z":0.864},{"s":"c","q":["q=6"],"r":0.055,"z":0.885},{"s":"c","q":["q=6"],"r":0.05,"z":0.905},{"s":"c","q":["q=6"],"r":0.045,"z":0.923},{"s":"c","q":["q=6"],"r":0.04,"z":0.94},{"s":"c","q":["q=6"],"r":0.035,"z":0.954},{"s":"c","q":["q=6"],"r":0.03,"z":0.966},{"s":"c","q":["q=6"],"r":0.025,"z":0.976},{"s":"c","q":["q=6"],"r":0.02,"z":0.985},{"s":"c","q":["q=6"],"r":0.015,"z":0.991},{"s":"c","q":["q=6"],"r":0.01,"z":0.996},

{"s":"c","q":["q=7"],"r":0.33,"z":0.305},{"s":"c","q":["q=7"],"r":0.32,"z":0.3045},{"s":"c","q":["q=7"],"r":0.31,"z":0.303},{"s":"c","q":["q=7"],"r":0.3,"z":0.302},{"s":"c","q":["q=7"],"r":0.29,"z":0.3},{"s":"c","q":["q=7"],"r":0.28,"z":0.293},{"s":"c","q":["q=7"],"r":0.27,"z":0.285},{"s":"c","q":["q=7"],"r":0.26,"z":0.273},{"s":"c","q":["q=7"],"r":0.25,"z":0.26},{"s":"c","q":["q=7"],"r":0.24,"z":0.24},{"s":"c","q":["q=7"],"r":0.23,"z":0.22},{"s":"c","q":["q=7"],"r":0.215,"z":0.175},{"s":"c","q":["q=7"],"r":0.2,"z":0.13},{"s":"c","q":["q=7"],"r":0.185,"z":0.085},{"s":"c","q":["q=7"],"r":0.17,"z":0.04},{"s":"c","q":["q=7"],"r":0.15,"z":0.005},{"s":"c","q":["q=7"],"r":0.135,"z":0.02},{"s":"c","q":["q=7"],"r":0.125,"z":0.05},{"s":"c","q":["q=7"],"r":0.115,"z":0.07},{"s":"c","q":["q=7"],"r":0.108,"z":0.09},{"s":"c","q":["q=7"],"r":0.1,"z":0.13},{"s":"c","q":["q=7"],"r":0.095,"z":0.16},{"s":"c","q":["q=7"],"r":0.09,"z":0.19},{"s":"c","q":["q=7"],"r":0.085,"z":0.23},{"s":"c","q":["q=7"],"r":0.08,"z":0.27},{"s":"c","q":["q=7"],"r":0.075,"z":0.31},{"s":"c","q":["q=7"],"r":0.0725,"z":0.345},{"s":"c","q":["q=7"],"r":0.07,"z":0.38},{"s":"c","q":["q=7"],"r":0.066,"z":0.43},{"s":"c","q":["q=7"],"r":0.064,"z":0.46},{"s":"c","q":["q=7"],"r":0.062,"z":0.49},{"s":"c","q":["q=7"],"r":0.06,"z":0.515},{"s":"c","q":["q=7"],"r":0.058,"z":0.54},{"s":"c","q":["q=7"],"r":0.0565,"z":0.56},{"s":"c","q":["q=7"],"r":0.055,"z":0.583},{"s":"c","q":["q=7"],"r":0.0535,"z":0.6},{"s":"c","q":["q=7"],"r":0.052,"z":0.62},{"s":"c","q":["q=7"],"r":0.0505,"z":0.64},{"s":"c","q":["q=7"],"r":0.049,"z":0.66},{"s":"c","q":["q=7"],"r":0.0475,"z":0.68},{"s":"c","q":["q=7"],"r":0.046,"z":0.7},{"s":"c","q":["q=7"],"r":0.0445,"z":0.72},{"s":"c","q":["q=7"],"r":0.043,"z":0.74},{"s":"c","q":["q=7"],"r":0.0415,"z":0.76},{"s":"c","q":["q=7"],"r":0.04,"z":0.78},{"s":"c","q":["q=7"],"r":0.038,"z":0.8},{"s":"c","q":["q=7"],"r":0.036,"z":0.82},{"s":"c","q":["q=7"],"r":0.034,"z":0.84},{"s":"c","q":["q=7"],"r":0.032,"z":0.86},{"s":"c","q":["q=7"],"r":0.03,"z":0.875},{"s":"c","q":["q=7"],"r":0.0285,"z":0.89},{"s":"c","q":["q=7"],"r":0.027,"z":0.9},{"s":"c","q":["q=7"],"r":0.0245,"z":0.915},{"s":"c","q":["q=7"],"r":0.022,"z":0.93},{"s":"c","q":["q=7"],"r":0.02,"z":0.94},{"s":"c","q":["q=7"],"r":0.0185,"z":0.95},{"s":"c","q":["q=7"],"r":0.016,"z":0.96},{"s":"c","q":["q=7"],"r":0.014,"z":0.968},{"s":"c","q":["q=7"],"r":0.012,"z":0.975},{"s":"c","q":["q=7"],"r":0.01,"z":0.982},{"s":"c","q":["q=7"],"r":0.008,"z":0.988},{"s":"c","q":["q=7"],"r":0.006,"z":0.993},{"s":"c","q":["q=7"],"r":0.004,"z":0.997},

{"s":"c","q":["q=8"],"r":0.17,"z":0.305},{"s":"c","q":["q=8"],"r":0.16,"z":0.3},{"s":"c","q":["q=8"],"r":0.15,"z":0.29},{"s":"c","q":["q=8"],"r":0.135,"z":0.26},{"s":"c","q":["q=8"],"r":0.12,"z":0.23},{"s":"c","q":["q=8"],"r":0.105,"z":0.2},{"s":"c","q":["q=8"],"r":0.09,"z":0.17},{"s":"c","q":["q=8"],"r":0.075,"z":0.14},{"s":"c","q":["q=8"],"r":0.06,"z":0.13},{"s":"c","q":["q=8"],"r":0.048,"z":0.2},{"s":"c","q":["q=8"],"r":0.0465,"z":0.225},{"s":"c","q":["q=8"],"r":0.045,"z":0.25},{"s":"c","q":["q=8"],"r":0.0435,"z":0.275},{"s":"c","q":["q=8"],"r":0.042,"z":0.3},{"s":"c","q":["q=8"],"r":0.041,"z":0.325},{"s":"c","q":["q=8"],"r":0.04,"z":0.35},{"s":"c","q":["q=8"],"r":0.039,"z":0.375},{"s":"c","q":["q=8"],"r":0.038,"z":0.4},{"s":"c","q":["q=8"],"r":0.037,"z":0.425},{"s":"c","q":["q=8"],"r":0.036,"z":0.45},{"s":"c","q":["q=8"],"r":0.035,"z":0.475},{"s":"c","q":["q=8"],"r":0.034,"z":0.5},{"s":"c","q":["q=8"],"r":0.033,"z":0.525},{"s":"c","q":["q=8"],"r":0.032,"z":0.55},{"s":"c","q":["q=8"],"r":0.031,"z":0.575},{"s":"c","q":["q=8"],"r":0.03,"z":0.6},{"s":"c","q":["q=8"],"r":0.029,"z":0.62},{"s":"c","q":["q=8"],"r":0.028,"z":0.64},{"s":"c","q":["q=8"],"r":0.027,"z":0.66},{"s":"c","q":["q=8"],"r":0.026,"z":0.68},{"s":"c","q":["q=8"],"r":0.025,"z":0.7},{"s":"c","q":["q=8"],"r":0.024,"z":0.72},{"s":"c","q":["q=8"],"r":0.023,"z":0.74},{"s":"c","q":["q=8"],"r":0.022,"z":0.76},{"s":"c","q":["q=8"],"r":0.021,"z":0.78},{"s":"c","q":["q=8"],"r":0.02,"z":0.8},{"s":"c","q":["q=8"],"r":0.019,"z":0.815},{"s":"c","q":["q=8"],"r":0.018,"z":0.83},{"s":"c","q":["q=8"],"r":0.0165,"z":0.845},{"s":"c","q":["q=8"],"r":0.015,"z":0.86},{"s":"c","q":["q=8"],"r":0.0135,"z":0.875},{"s":"c","q":["q=8"],"r":0.012,"z":0.89},{"s":"c","q":["q=8"],"r":0.011,"z":0.9},{"s":"c","q":["q=8"],"r":0.0105,"z":0.91},{"s":"c","q":["q=8"],"r":0.0095,"z":0.92},{"s":"c","q":["q=8"],"r":0.009,"z":0.93},{"s":"c","q":["q=8"],"r":0.008,"z":0.94},{"s":"c","q":["q=8"],"r":0.0072,"z":0.948},{"s":"c","q":["q=8"],"r":0.0065,"z":0.955},{"s":"c","q":["q=8"],"r":0.0058,"z":0.962},{"s":"c","q":["q=8"],"r":0.005,"z":0.968},{"s":"c","q":["q=8"],"r":0.0042,"z":0.974},{"s":"c","q":["q=8"],"r":0.0036,"z":0.98},{"s":"c","q":["q=8"],"r":0.003,"z":0.985},{"s":"c","q":["q=8"],"r":0.0022,"z":0.99},{"s":"c","q":["q=8"],"r":0.0015,"z":0.995},

{"s":"d","q":["q=6"],"b":"c1","z":0.02,"x":-0.39,"y":0.05,"y2":0.05},{"s":"d","q":["q=6"],"b":"c1","z":0.02,"x":-0.3,"y":-0.006,"y2":-0.074},{"s":"d","q":["q=6"],"b":"c1","z":0.02,"x":-0.2,"y":-0.039,"y2":-0.135},{"s":"d","q":["q=6"],"b":"c1","z":0.02,"x":-0.1,"y":-0.058,"y2":-0.165},{"s":"d","q":["q=6"],"b":"c1","z":0.02,"x":0,"y":-0.0635,"y2":-0.175},{"s":"d","q":["q=6"],"b":"c1","z":0.02,"x":0.1,"y":-0.058,"y2":-0.165},{"s":"d","q":["q=6"],"b":"c1","z":0.02,"x":0.2,"y":-0.039,"y2":-0.135},{"s":"d","q":["q=6"],"b":"c1","z":0.02,"x":0.3,"y":-0.006,"y2":-0.074},{"s":"d","q":["q=6"],"b":"c1","z":0.02,"x":0.39,"y":0.04,"y2":0.04},
{"s":"d","q":["q=6"],"b":"c2","z":0.05,"x":-0.36,"y":0.03,"y2":0.03},{"s":"d","q":["q=6"],"b":"c2","z":0.05,"x":-0.3,"y":-0.006,"y2":-0.075},{"s":"d","q":["q=6"],"b":"c2","z":0.05,"x":-0.2,"y":-0.039,"y2":-0.133},{"s":"d","q":["q=6"],"b":"c2","z":0.05,"x":-0.1,"y":-0.058,"y2":-0.16},{"s":"d","q":["q=6"],"b":"c2","z":0.05,"x":0,"y":-0.0635,"y2":-0.168},{"s":"d","q":["q=6"],"b":"c2","z":0.05,"x":0.1,"y":-0.058,"y2":-0.16},{"s":"d","q":["q=6"],"b":"c2","z":0.05,"x":0.2,"y":-0.039,"y2":-0.133},{"s":"d","q":["q=6"],"b":"c2","z":0.05,"x":0.3,"y":-0.006,"y2":-0.075},{"s":"d","q":["q=6"],"b":"c2","z":0.05,"x":0.36,"y":0.03,"y2":0.03},
{"s":"d","q":["q=6"],"b":"c3","z":0.09,"x":-0.39,"y":0.045,"y2":0.045},{"s":"d","q":["q=6"],"b":"c3","z":0.09,"x":-0.3,"y":-0.006,"y2":-0.064},{"s":"d","q":["q=6"],"b":"c3","z":0.09,"x":-0.2,"y":-0.039,"y2":-0.113},{"s":"d","q":["q=6"],"b":"c3","z":0.09,"x":-0.1,"y":-0.058,"y2":-0.1375},{"s":"d","q":["q=6"],"b":"c3","z":0.09,"x":0,"y":-0.0635,"y2":-0.145},{"s":"d","q":["q=6"],"b":"c3","z":0.09,"x":0.1,"y":-0.058,"y2":-0.1375},{"s":"d","q":["q=6"],"b":"c3","z":0.09,"x":0.2,"y":-0.039,"y2":-0.113},{"s":"d","q":["q=6"],"b":"c3","z":0.09,"x":0.3,"y":-0.006,"y2":-0.064},{"s":"d","q":["q=6"],"b":"c3","z":0.09,"x":0.39,"y":0.045,"y2":0.045},
{"s":"d","q":["q=6"],"b":"c4","z":0.13,"x":-0.4,"y":0.052,"y2":0.051},{"s":"d","q":["q=6"],"b":"c4","z":0.13,"x":-0.3,"y":-0.006,"y2":-0.045},{"s":"d","q":["q=6"],"b":"c4","z":0.13,"x":-0.2,"y":-0.039,"y2":-0.088},{"s":"d","q":["q=6"],"b":"c4","z":0.13,"x":-0.1,"y":-0.058,"y2":-0.11},{"s":"d","q":["q=6"],"b":"c4","z":0.13,"x":0,"y":-0.0635,"y2":-0.117},{"s":"d","q":["q=6"],"b":"c4","z":0.13,"x":0.1,"y":-0.058,"y2":-0.11},{"s":"d","q":["q=6"],"b":"c4","z":0.13,"x":0.2,"y":-0.039,"y2":-0.088},{"s":"d","q":["q=6"],"b":"c4","z":0.13,"x":0.3,"y":-0.006,"y2":-0.045},{"s":"d","q":["q=6"],"b":"c4","z":0.13,"x":0.4,"y":0.052,"y2":0.051},
{"s":"d","q":["q=6"],"b":"c5","z":0.17,"x":-0.39,"y":0.047,"y2":0.04},{"s":"d","q":["q=6"],"b":"c5","z":0.17,"x":-0.3,"y":-0.006,"y2":-0.029},{"s":"d","q":["q=6"],"b":"c5","z":0.17,"x":-0.2,"y":-0.039,"y2":-0.068},{"s":"d","q":["q=6"],"b":"c5","z":0.17,"x":-0.1,"y":-0.058,"y2":-0.088},{"s":"d","q":["q=6"],"b":"c5","z":0.17,"x":0,"y":-0.0635,"y2":-0.095},{"s":"d","q":["q=6"],"b":"c5","z":0.17,"x":0.1,"y":-0.058,"y2":-0.088},{"s":"d","q":["q=6"],"b":"c5","z":0.17,"x":0.2,"y":-0.039,"y2":-0.068},{"s":"d","q":["q=6"],"b":"c5","z":0.17,"x":0.3,"y":-0.006,"y2":-0.029},{"s":"d","q":["q=6"],"b":"c5","z":0.17,"x":0.39,"y":0.047,"y2":0.04},

{"s":"v","q":["q=6"],"b":"e1","z":0.225,"x":-0.394,"y":0.047,"y2":0.0505},{"s":"v","q":["q=6"],"b":"e1","z":0.225,"x":-0.3325,"y":0.0095,"y2":0.011},{"s":"v","q":["q=6"],"b":"e1","z":0.225,"x":-0.271,"y":-0.0175,"y2":-0.017},{"s":"v","q":["q=6"],"b":"e1","z":0.225,"x":-0.21,"y":-0.037,"y2":-0.041},{"s":"v","q":["q=6"],"b":"e1","z":0.225,"x":-0.149,"y":-0.05,"y2":-0.068},{"s":"v","q":["q=6"],"b":"e1","z":0.225,"x":-0.0875,"y":-0.059,"y2":-0.105},{"s":"v","q":["q=6"],"b":"e1","z":0.225,"x":-0.009,"y":-0.0635,"y2":-0.079},{"s":"v","q":["q=6"],"b":"e1","z":0.225,"x":0.07,"y":-0.0606,"y2":-0.063},{"s":"v","q":["q=6"],"b":"e1","z":0.225,"x":0.149,"y":-0.05,"y2":-0.05},{"s":"v","q":["q=6"],"b":"e1","z":0.225,"x":0.228,"y":-0.032,"y2":-0.033},{"s":"v","q":["q=6"],"b":"e1","z":0.225,"x":0.307,"y":-0.003,"y2":-0.005},
{"s":"v","q":["q=6"],"b":"e2","z":0.25,"x":-0.271,"y":-0.019,"y2":-0.019},{"s":"v","q":["q=6"],"b":"e2","z":0.25,"x":-0.21,"y":-0.034,"y2":-0.041},{"s":"v","q":["q=6"],"b":"e2","z":0.25,"x":-0.149,"y":-0.049,"y2":-0.068},{"s":"v","q":["q=6"],"b":"e2","z":0.25,"x":-0.0875,"y":-0.057,"y2":-0.105},{"s":"v","q":["q=6"],"b":"e2","z":0.25,"x":-0.009,"y":-0.061,"y2":-0.079},{"s":"v","q":["q=6"],"b":"e2","z":0.25,"x":0.07,"y":-0.058,"y2":-0.063},{"s":"v","q":["q=6"],"b":"e2","z":0.25,"x":0.149,"y":-0.05,"y2":-0.05},
{"s":"v","q":["q=6"],"b":"e3","z":0.272,"x":-0.21,"y":-0.042,"y2":-0.042},{"s":"v","q":["q=6"],"b":"e3","z":0.272,"x":-0.149,"y":-0.052,"y2":-0.068},{"s":"v","q":["q=6"],"b":"e3","z":0.272,"x":-0.0875,"y":-0.06,"y2":-0.105},{"s":"v","q":["q=6"],"b":"e3","z":0.272,"x":-0.009,"y":-0.064,"y2":-0.079},{"s":"v","q":["q=6"],"b":"e3","z":0.272,"x":0.07,"y":-0.062,"y2":-0.063},
{"s":"v","q":["q=6"],"b":"e4","z":0.3,"x":-0.149,"y":-0.068,"y2":-0.068},{"s":"v","q":["q=6"],"b":"e4","z":0.3,"x":-0.0875,"y":-0.075,"y2":-0.105},{"s":"v","q":["q=6"],"b":"e4","z":0.3,"x":-0.009,"y":-0.078,"y2":-0.079},

{"s":"v","q":["q=7"],"b":"v","z":0.305,"x":-0.7,"y":0.36,"y2":0.36},{"s":"v","q":["q=7"],"b":"v","z":0.305,"x":-0.65,"y":0.33,"y2":0.322},{"s":"v","q":["q=7"],"b":"v","z":0.305,"x":-0.6,"y":0.3,"y2":0.285},{"s":"v","q":["q=7"],"b":"v","z":0.305,"x":-0.33,"y":0.305,"y2":0.081},{"s":"v","q":["q=7"],"b":"v","z":0.305,"x":-0.32,"y":0.2585,"y2":0.0735},{"s":"v","q":["q=7"],"b":"v","z":0.305,"x":-0.3,"y":0.226,"y2":0.058},{"s":"v","q":["q=7"],"b":"v","z":0.305,"x":-0.28,"y":0.204,"y2":0.043},{"s":"v","q":["q=7"],"b":"v","z":0.305,"x":-0.25,"y":0.181,"y2":0.021},{"s":"v","q":["q=7"],"b":"v","z":0.305,"x":-0.2,"y":0.1535,"y2":-0.017},{"s":"v","q":["q=7"],"b":"v","z":0.305,"x":-0.15,"y":0.135,"y2":-0.055},{"s":"v","q":["q=7"],"b":"v","z":0.305,"x":-0.1,"y":0.1235,"y2":-0.092},{"s":"v","q":["q=7"],"b":"v","z":0.305,"x":-0.09,"y":0.123,"y2":-0.1},{"s":"v","q":["q=7"],"b":"v","z":0.305,"x":-0.05,"y":0.117,"y2":-0.082},{"s":"v","q":["q=7"],"b":"v","z":0.305,"x":0,"y":0.115,"y2":-0.06},{"s":"v","q":["q=7"],"b":"v","z":0.305,"x":0.05,"y":0.117,"y2":-0.038},{"s":"v","q":["q=7"],"b":"v","z":0.305,"x":0.1,"y":0.1235,"y2":-0.016},{"s":"v","q":["q=7"],"b":"v","z":0.305,"x":0.15,"y":0.135,"y2":0.006},{"s":"v","q":["q=7"],"b":"v","z":0.305,"x":0.2,"y":0.1535,"y2":0.028},{"s":"v","q":["q=7"],"b":"v","z":0.305,"x":0.25,"y":0.181,"y2":0.051},{"s":"v","q":["q=7"],"b":"v","z":0.305,"x":0.28,"y":0.204,"y2":0.064},{"s":"v","q":["q=7"],"b":"v","z":0.305,"x":0.3,"y":0.226,"y2":0.073},{"s":"v","q":["q=7"],"b":"v","z":0.305,"x":0.32,"y":0.2585,"y2":0.082},{"s":"v","q":["q=7"],"b":"v","z":0.305,"x":0.33,"y":0.305,"y2":0.086},{"s":"v","q":["q=7"],"b":"v","z":0.305,"x":0.6,"y":0.3,"y2":0.21},{"s":"v","q":["q=7"],"b":"v","z":0.305,"x":0.65,"y":0.27,"y2":0.228},{"s":"v","q":["q=7"],"b":"v","z":0.305,"x":0.7008,"y":0.25,"y2":0.25},

{"s":"v","q":["q=8"],"b":"v","z":0.305,"x":-0.7,"y":0.36,"y2":0.36},{"s":"v","q":["q=8"],"b":"v","z":0.305,"x":-0.65,"y":0.33,"y2":0.322},{"s":"v","q":["q=8"],"b":"v","z":0.305,"x":-0.6,"y":0.3,"y2":0.285},{"s":"v","q":["q=8"],"b":"v","z":0.305,"x":-0.17,"y":0.305,"y2":-0.04},{"s":"v","q":["q=8"],"b":"v","z":0.305,"x":-0.15,"y":0.259,"y2":-0.055},{"s":"v","q":["q=8"],"b":"v","z":0.305,"x":-0.1,"y":0.226,"y2":-0.092},{"s":"v","q":["q=8"],"b":"v","z":0.305,"x":-0.09,"y":0.224,"y2":-0.1},{"s":"v","q":["q=8"],"b":"v","z":0.305,"x":-0.05,"y":0.211,"y2":-0.082},{"s":"v","q":["q=8"],"b":"v","z":0.305,"x":0,"y":0.207,"y2":-0.06},{"s":"v","q":["q=8"],"b":"v","z":0.305,"x":0.05,"y":0.211,"y2":-0.038},{"s":"v","q":["q=8"],"b":"v","z":0.305,"x":0.1,"y":0.226,"y2":-0.016},{"s":"v","q":["q=8"],"b":"v","z":0.305,"x":0.15,"y":0.259,"y2":0.006},{"s":"v","q":["q=8"],"b":"v","z":0.305,"x":0.17,"y":0.305,"y2":0.015},{"s":"v","q":["q=8"],"b":"v","z":0.305,"x":0.6,"y":0.3,"y2":0.21},{"s":"v","q":["q=8"],"b":"v","z":0.305,"x":0.65,"y":0.27,"y2":0.228},{"s":"v","q":["q=8"],"b":"v","z":0.305,"x":0.7008,"y":0.25,"y2":0.25},

{"s":"f","q":["q=3","q=4","q=5","q=6","q=7","q=8"],"x":-0.7,"y":0.056,"x2":-0.0875,"y2":-0.405},
{"s":"f","q":["q=3","q=4","q=5","q=6","q=7","q=8"],"x":-0.0875,"y":-0.405,"x2":0.7008,"y2":-0.056},
{"s":"k","q":["q=3","q=4","q=5","q=6","q=7","q=8"],"x":-0.722,"y":1.056,"x2":-0.7,"y2":1.056},
{"s":"k","q":["q=3","q=4","q=5","q=6","q=7","q=8"],"x":-0.722,"y":0.556,"x2":-0.7,"y2":0.556},
{"s":"k","q":["q=3","q=4","q=5","q=6","q=7","q=8"],"x":-0.722,"y":0.056,"x2":-0.7,"y2":0.056},
{"s":"k","q":["q=3","q=4","q=5","q=6","q=7","q=8"],"x":-0.0875,"y":-0.405,"x2":-0.103,"y2":-0.425},
{"s":"k","q":["q=3","q=4","q=5","q=6","q=7","q=8"],"x":-0.0875,"y":-0.405,"x2":-0.07,"y2":-0.425},
{"s":"k","q":["q=3","q=4","q=5","q=6","q=7","q=8"],"x":-0.394,"y":-0.175,"x2":-0.41,"y2":-0.178},
{"s":"k","q":["q=3","q=4","q=5","q=6","q=7","q=8"],"x":0.3066,"y":-0.23,"x2":0.31,"y2":-0.245},
{"s":"k","q":["q=3","q=4","q=5","q=6","q=7","q=8"],"x":0.7008,"y":-0.056,"x2":0.722,"y2":-0.07},
{"s":"z","q":["q=3","q=4","q=5","q=6","q=7","q=8"],"x":-0.7,"y":0.056,"x2":-0.7,"y2":1.056},

{"s":"t","q":["q=3","q=4","q=5","q=6","q=7","q=8"],"x":-0.815,"y":1.082,"t":"1"},
{"s":"t","q":["q=3","q=4","q=5","q=6","q=7","q=8"],"x":-0.871,"y":0.583,"t":"0.5"},
{"s":"t","q":["q=3","q=4","q=5","q=6","q=7","q=8"],"x":-0.819,"y":0.082,"t":"0"},
{"s":"t","q":["q=3","q=4","q=5","q=6","q=7","q=8"],"x":-0.871,"y":-0.071,"t":"0.5"},
{"s":"t","q":["q=3","q=4","q=5","q=6","q=7","q=8"],"x":-0.515,"y":-0.294,"t":"0"},
{"s":"t","q":["q=3","q=4","q=5","q=6","q=7","q=8"],"x":-0.289,"y":-0.536,"t":"-0.5"},
{"s":"t","q":["q=3","q=4","q=5","q=6","q=7","q=8"],"x":0.081,"y":-0.547,"t":"-0.5"},
{"s":"t","q":["q=3","q=4","q=5","q=6","q=7","q=8"],"x":0.398,"y":-0.369,"t":"0"},
{"s":"t","q":["q=3","q=4","q=5","q=6","q=7","q=8"],"x":0.858,"y":-0.191,"t":"0.5"}
]},
"facet":{"field":"q","type":"nominal","header":{"title":null,"labelFont":"Liberation Sans","labelFontSize":72,"labelFontWeight":"bold","labelColor":"#111111","labelPadding":2}},
"columns":3,
"spacing":{"row":171,"column":37},
"spec":{"width":997,"height":1072,"layer":[
{"transform":[{"filter":"datum.s=='g'"}],"mark":{"type":"rule","color":"#e0e0e0","strokeWidth":4},"encoding":{"x":{"field":"x","type":"quantitative","scale":{"domain":[-1,1],"nice":false,"zero":false},"axis":null},"y":{"field":"y","type":"quantitative","scale":{"domain":[-0.6,1.45],"nice":false,"zero":false},"axis":null},"x2":{"field":"x2"},"y2":{"field":"y2"}}},
{"transform":[{"filter":"datum.s=='w'"}],"mark":{"type":"rule","color":"#c6c6c6","strokeWidth":5},"encoding":{"x":{"field":"x","type":"quantitative","axis":null},"y":{"field":"y","type":"quantitative","axis":null},"x2":{"field":"x2"},"y2":{"field":"y2"}}},
{"transform":[{"filter":"datum.s=='a'"}],"mark":{"type":"point","filled":true,"opacity":1,"strokeWidth":0,"shape":"M1,0C1,0.334,0.552,0.605,0,0.605C-0.552,0.605,-1,0.334,-1,0C-1,-0.334,-0.552,-0.605,0,-0.605C0.552,-0.605,1,-0.334,1,0Z"},"encoding":{"x":{"datum":0,"type":"quantitative","axis":null},"y":{"field":"z","type":"quantitative","axis":null},"size":{"field":"r","type":"quantitative","scale":{"type":"pow","exponent":2,"domain":[0,1],"range":[0,994400]},"legend":null},"color":{"field":"z","type":"quantitative","scale":{"domain":[0,0.034,0.068,0.08,0.11,0.15,0.217,0.285,0.34,0.4,0.454,0.52,0.583,0.61,0.644,0.68,0.71,0.76,0.8,0.83,0.88,0.93,1],"range":["#37248a","#342e98","#2c38b0","#1040c0","#0054d8","#0068e0","#0078dc","#0090d4","#00a4cc","#00aec0","#00b5a8","#00bd90","#00c080","#50c078","#80c070","#a8bc60","#c8b858","#e8b450","#fdb33a","#ffb030","#ffcc00","#ffe000","#f8fa00"]},"legend":{"title":null,"orient":"none","legendX":3140,"legendY":695,"direction":"vertical","gradientLength":933,"gradientThickness":32,"gradientStrokeColor":"#222222","gradientStrokeWidth":7,"values":[0,0.2,0.4,0.6,0.8,1],"format":"~g","labelFont":"Liberation Sans","labelFontSize":60,"labelColor":"#5a5a5a","labelOffset":28,"encoding":{"labels":{"baseline":{"value":"middle"},"dy":{"value":6}}}}}}},
{"transform":[{"filter":"datum.s=='m'"}],"mark":{"type":"area","color":"white","opacity":1,"interpolate":"monotone"},"encoding":{"x":{"field":"x","type":"quantitative","axis":null},"y":{"field":"y","type":"quantitative","axis":null},"y2":{"field":"y2"},"detail":{"field":"b"}}},
{"transform":[{"filter":"datum.s=='h'"}],"mark":{"type":"rule","color":"#e0e0e0","strokeWidth":4},"encoding":{"x":{"field":"x","type":"quantitative","axis":null},"y":{"field":"y","type":"quantitative","axis":null},"x2":{"field":"x2"},"y2":{"field":"y2"}}},
{"transform":[{"filter":"datum.s=='y'"}],"mark":{"type":"rule","color":"#c6c6c6","strokeWidth":5},"encoding":{"x":{"field":"x","type":"quantitative","axis":null},"y":{"field":"y","type":"quantitative","axis":null},"x2":{"field":"x2"},"y2":{"field":"y2"}}},
{"transform":[{"filter":"datum.s=='p'"}],"mark":{"type":"area","opacity":1},"encoding":{"x":{"field":"x","type":"quantitative","axis":null},"y":{"field":"y","type":"quantitative","axis":null},"y2":{"field":"y2"},"detail":{"field":"b"},"color":{"field":"z","type":"quantitative"}}},
{"transform":[{"filter":"datum.s=='c'"}],"mark":{"type":"point","filled":true,"opacity":1,"strokeWidth":0,"shape":"M1,0C1,0.334,0.552,0.605,0,0.605C-0.552,0.605,-1,0.334,-1,0C-1,-0.334,-0.552,-0.605,0,-0.605C0.552,-0.605,1,-0.334,1,0Z"},"encoding":{"x":{"datum":0,"type":"quantitative","axis":null},"y":{"field":"z","type":"quantitative","axis":null},"size":{"field":"r","type":"quantitative","legend":null},"color":{"field":"z","type":"quantitative"}}},
{"transform":[{"filter":"datum.s=='d'"}],"mark":{"type":"area","opacity":1,"interpolate":"monotone"},"encoding":{"x":{"field":"x","type":"quantitative","axis":null},"y":{"field":"y","type":"quantitative","axis":null},"y2":{"field":"y2"},"detail":{"field":"b"},"color":{"field":"z","type":"quantitative"}}},
{"transform":[{"filter":"datum.s=='v'"}],"mark":{"type":"area","opacity":1},"encoding":{"x":{"field":"x","type":"quantitative","axis":null},"y":{"field":"y","type":"quantitative","axis":null},"y2":{"field":"y2"},"detail":{"field":"b"},"color":{"field":"z","type":"quantitative"}}},
{"transform":[{"filter":"datum.s=='k'"}],"mark":{"type":"rule","color":"#555555","strokeWidth":3},"encoding":{"x":{"field":"x","type":"quantitative","axis":null},"y":{"field":"y","type":"quantitative","axis":null},"x2":{"field":"x2"},"y2":{"field":"y2"}}},
{"transform":[{"filter":"datum.s=='f'"}],"mark":{"type":"rule","color":"#404040","strokeWidth":4},"encoding":{"x":{"field":"x","type":"quantitative","axis":null},"y":{"field":"y","type":"quantitative","axis":null},"x2":{"field":"x2"},"y2":{"field":"y2"}}},
{"transform":[{"filter":"datum.s=='z'"}],"mark":{"type":"rule","color":"#222222","strokeWidth":5},"encoding":{"x":{"field":"x","type":"quantitative","axis":null},"y":{"field":"y","type":"quantitative","axis":null},"x2":{"field":"x2"},"y2":{"field":"y2"}}},
{"transform":[{"filter":"datum.s=='t'"}],"mark":{"type":"text","font":"Liberation Sans","fontSize":61,"color":"#5a5a5a","align":"center","baseline":"middle"},"encoding":{"x":{"field":"x","type":"quantitative","axis":null},"y":{"field":"y","type":"quantitative","axis":null},"text":{"field":"t"}}}
]},
"config":{"view":{"stroke":null}}
}
